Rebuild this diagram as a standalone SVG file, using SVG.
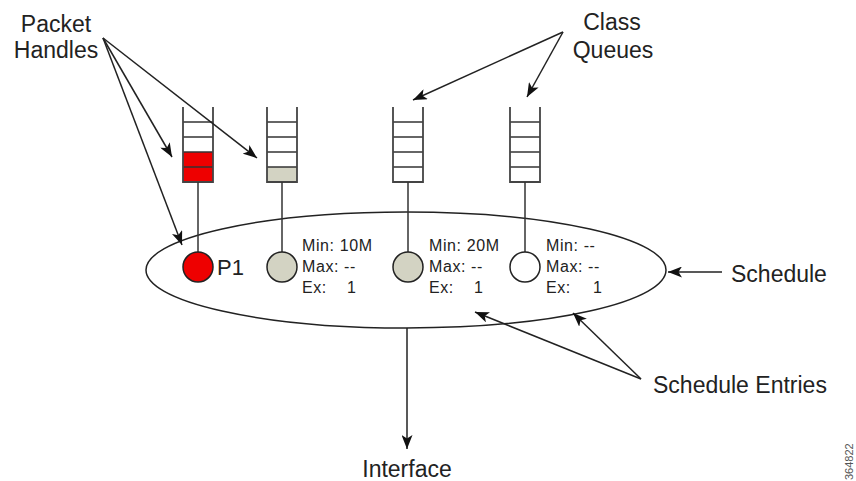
<svg xmlns="http://www.w3.org/2000/svg" width="856" height="481" viewBox="0 0 856 481">
<defs>
<marker id="ah" viewBox="0 0 14 11" refX="14" refY="5.5" markerWidth="14" markerHeight="11" markerUnits="userSpaceOnUse" orient="auto">
<path d="M0,0 L14,5.5 L0,11 L3.5,5.5 Z" fill="#111"/>
</marker>
<style>
.lbl{font-family:"Liberation Sans",Arial,sans-serif;font-size:23px;fill:#222}
.sm{font-family:"Liberation Sans",Arial,sans-serif;font-size:16px;fill:#222;letter-spacing:0.6px}
.rail{stroke:#444;stroke-width:1.8;fill:none}
.rung{stroke:#333;stroke-width:1.5}
.stem{stroke:#333;stroke-width:1.5}
.conn{stroke:#222;stroke-width:1.5;fill:none;marker-end:url(#ah)}
.ent{stroke:#222;stroke-width:1.5}
</style>
</defs>
<rect width="856" height="481" fill="#fff"/>

<g id="schedule">
<ellipse cx="406" cy="270" rx="260" ry="58" fill="none" stroke="#222" stroke-width="1.5"/>
</g>

<g id="queue1">
<rect x="183" y="152" width="30" height="30" fill="#ee0000"/>
<line class="rung" x1="183" y1="122" x2="213" y2="122"/>
<line class="rung" x1="183" y1="137" x2="213" y2="137"/>
<line class="rung" x1="183" y1="152" x2="213" y2="152"/>
<line class="rung" x1="183" y1="167" x2="213" y2="167"/>
<path class="rail" d="M183,107 V182 H213 V107"/>
<line class="stem" x1="198" y1="182" x2="198" y2="252"/>
</g>
<g id="queue2">
<rect x="267" y="167" width="30" height="15" fill="#d3d3c3"/>
<line class="rung" x1="267" y1="122" x2="297" y2="122"/>
<line class="rung" x1="267" y1="137" x2="297" y2="137"/>
<line class="rung" x1="267" y1="152" x2="297" y2="152"/>
<line class="rung" x1="267" y1="167" x2="297" y2="167"/>
<path class="rail" d="M267,107 V182 H297 V107"/>
<line class="stem" x1="282" y1="182" x2="282" y2="252"/>
</g>
<g id="queue3">
<line class="rung" x1="393" y1="122" x2="423" y2="122"/>
<line class="rung" x1="393" y1="137" x2="423" y2="137"/>
<line class="rung" x1="393" y1="152" x2="423" y2="152"/>
<line class="rung" x1="393" y1="167" x2="423" y2="167"/>
<path class="rail" d="M393,107 V182 H423 V107"/>
<line class="stem" x1="408" y1="182" x2="408" y2="252"/>
</g>
<g id="queue4">
<line class="rung" x1="510" y1="122" x2="540" y2="122"/>
<line class="rung" x1="510" y1="137" x2="540" y2="137"/>
<line class="rung" x1="510" y1="152" x2="540" y2="152"/>
<line class="rung" x1="510" y1="167" x2="540" y2="167"/>
<path class="rail" d="M510,107 V182 H540 V107"/>
<line class="stem" x1="525" y1="182" x2="525" y2="252"/>
</g>

<g id="entry1">
<circle class="ent" cx="198" cy="267" r="15" fill="#ee0000"/>
<text class="lbl" x="217" y="275" style="font-size:22px">P1</text>
</g>
<g id="entry2">
<circle class="ent" cx="282" cy="267" r="15" fill="#d3d3c3"/>
<text class="sm" x="302" y="251">Min: 10M</text>
<text class="sm" x="302" y="272">Max: --</text>
<text class="sm" x="302" y="293">Ex:</text>
<text class="sm" x="347" y="293">1</text>
</g>
<g id="entry3">
<circle class="ent" cx="408" cy="267" r="15" fill="#d3d3c3"/>
<text class="sm" x="429" y="251">Min: 20M</text>
<text class="sm" x="429" y="272">Max: --</text>
<text class="sm" x="429" y="293">Ex:</text>
<text class="sm" x="474" y="293">1</text>
</g>
<g id="entry4">
<circle class="ent" cx="525" cy="267" r="15" fill="#fff"/>
<text class="sm" x="546" y="251">Min: --</text>
<text class="sm" x="546" y="272">Max: --</text>
<text class="sm" x="546" y="293">Ex:</text>
<text class="sm" x="593" y="293">1</text>
</g>

<g id="labels">
<text class="lbl" x="56" y="32" text-anchor="middle">Packet</text>
<text class="lbl" x="56" y="58" text-anchor="middle">Handles</text>
<text class="lbl" x="612" y="30" text-anchor="middle">Class</text>
<text class="lbl" x="613" y="58" text-anchor="middle">Queues</text>
<text class="lbl" x="731" y="282">Schedule</text>
<text class="lbl" x="653" y="393">Schedule Entries</text>
<text class="lbl" x="407" y="477" text-anchor="middle">Interface</text>
<text x="853" y="480" transform="rotate(-90 853 480)" style="font-family:'Liberation Sans',Arial,sans-serif;font-size:11px;fill:#555">364822</text>
</g>

<g id="connectors">
<line class="conn" x1="103" y1="38" x2="182" y2="245"/>
<line class="conn" x1="103" y1="38" x2="172" y2="157"/>
<line class="conn" x1="103" y1="38" x2="257" y2="158"/>
<line class="conn" x1="563" y1="32" x2="413" y2="100"/>
<line class="conn" x1="563" y1="32" x2="527" y2="97"/>
<line class="conn" x1="722" y1="272" x2="668" y2="272"/>
<line class="conn" x1="641" y1="379" x2="475" y2="312"/>
<line class="conn" x1="641" y1="379" x2="573" y2="313"/>
<line class="conn" x1="407" y1="328" x2="407" y2="449"/>
</g>
</svg>
